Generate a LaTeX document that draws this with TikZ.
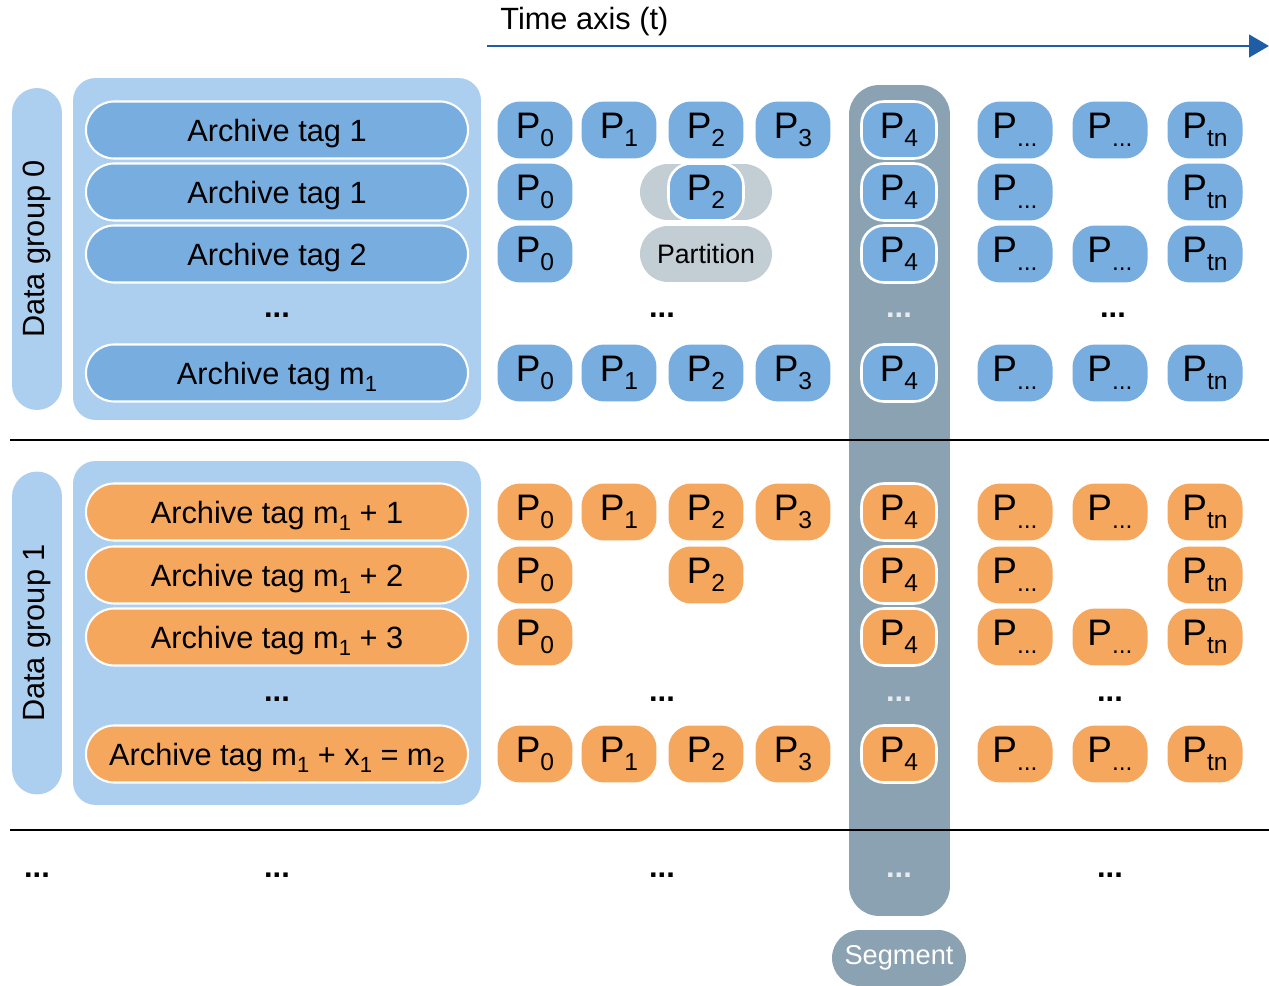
\documentclass[tikz,border=0pt]{standalone}
\usepackage{fontspec}
\setmainfont{Liberation Sans}
\usepackage{tikz}
\usetikzlibrary{positioning,arrows.meta}
\usepackage{xcolor}

\definecolor{pblue}{HTML}{78ADDF}
\definecolor{panel}{HTML}{ADCFEF}
\definecolor{porange}{HTML}{F5A75E}
\definecolor{segcol}{HTML}{8AA2B2}
\definecolor{partcol}{HTML}{C3CDD4}
\definecolor{axiscol}{HTML}{1F5DA6}

\newcommand{\lowsub}[2][14]{\raisebox{-0.22em}{\fontsize{#1}{#1}\selectfont #2}}
\newcommand{\plabel}[1]{P\lowsub{\ifcase#1\relax 0\or 1\or 2\or 3\or 4\or ...\or ...\or tn\fi}}

\begin{document}
\begin{tikzpicture}[x=0.02cm, y=-0.02cm,
    every node/.style={inner sep=0pt, font=\fontsize{17.5}{20}\selectfont},
    panelbox/.style={fill=panel, rounded corners=0.45cm, minimum width=8.16cm},
    groupbar/.style={fill=panel, rounded corners=0.5cm, rotate=90, minimum height=1cm},
    tagbox/.style={draw=white, line width=1.2pt, rounded corners=0.56cm, minimum width=7.64cm, minimum height=1.14cm, text height=0.5cm, text depth=0.02cm},
    pbox/.style={rounded corners=0.45cm, minimum width=1.5cm, minimum height=1.14cm, font=\fontsize{21}{21}\selectfont},
    insegment/.style={draw=white, line width=1.5pt},
    col4/.style={insegment},
    greypill/.style={fill=partcol, rounded corners=0.56cm, minimum width=2.64cm, minimum height=1.12cm},
    dotsnode/.style={font=\fontsize{17.5}{20}\selectfont\bfseries, yshift=-0.08cm},
    segdots/.style={dotsnode, text=white!80!segcol}]

  \useasboundingbox (0,0) rectangle (1269,986);

  % segment column, behind everything
  \node[fill=segcol, rounded corners=0.6cm, minimum width=2.02cm, minimum height=16.62cm] (segment) at (899.5,500.5) {};
  \node[fill=segcol, rounded corners=0.56cm, minimum width=2.68cm, minimum height=1.12cm, text=white, font=\fontsize{15.5}{18}\selectfont] (seglabel) at (899,958) {Segment};

  % time axis
  \coordinate (tstart) at (487,46);
  \coordinate (tend) at (1269,46);
  \draw[axiscol, line width=1.7pt, -{Triangle[length=0.4cm,width=0.45cm]}] (tstart) -- (tend);
  \node[anchor=base west] (tlabel) at (500,30) {Time axis (t)};

  % data group 0
  \node[groupbar, minimum width=6.44cm] (group0) at (37,249) {Data group 0};
  \node[panelbox, minimum height=6.84cm] (panel0) at (277,249) {};
  \node[tagbox, fill=pblue] (tag0a) at (277,130) {Archive tag 1};
  \node[tagbox, fill=pblue] (tag0b) at (277,192) {Archive tag 1};
  \node[tagbox, fill=pblue] (tag0c) at (277,254) {Archive tag 2};
  \node[dotsnode] (dots0a) at (277,311) {...};
  \node[tagbox, fill=pblue] (tag0m) at (277,373) {Archive tag m\lowsub[12.5]{1}};

  \node[greypill] (partbg) at (706,192) {};
  \node[greypill, font=\fontsize{15.2}{18}\selectfont] (partition) at (706,254) {Partition};
  \node[pbox, fill=pblue, insegment] (p0-2-2) at (706,192) {\plabel{2}};

  \foreach \r/\y/\cols in {1/130/{0,1,2,3,4,5,6,7}, 2/192/{0,4,5,7}, 3/254/{0,4,5,6,7}, 4/373/{0,1,2,3,4,5,6,7}}
    \foreach \c in \cols {
      \pgfmathsetmacro\px{{535,619,706,793,899,1015,1110,1205}[\c]}
      \node[pbox, fill=pblue, col\c/.try] (p0-\r-\c) at (\px,\y) {\plabel{\c}};
    }
  \node[dotsnode] (dots0b) at (662,311) {...};
  \node[segdots] (dots0c) at (899,311) {...};
  \node[dotsnode] (dots0d) at (1113,311) {...};

  % data group 1
  \node[groupbar, minimum width=6.46cm] (group1) at (37,633) {Data group 1};
  \node[panelbox, minimum height=6.88cm] (panel1) at (277,633) {};
  \node[tagbox, fill=porange] (tag1a) at (277,512) {Archive tag m\lowsub[12.5]{1} + 1};
  \node[tagbox, fill=porange] (tag1b) at (277,575) {Archive tag m\lowsub[12.5]{1} + 2};
  \node[tagbox, fill=porange] (tag1c) at (277,637) {Archive tag m\lowsub[12.5]{1} + 3};
  \node[dotsnode] (dots1a) at (277,695) {...};
  \node[tagbox, fill=porange] (tag1m) at (277,754) {Archive tag m\lowsub[12.5]{1} + x\lowsub[12.5]{1} = m\lowsub[12.5]{2}};

  \foreach \r/\y/\cols in {1/512/{0,1,2,3,4,5,6,7}, 2/575/{0,2,4,5,7}, 3/637/{0,4,5,6,7}, 4/754/{0,1,2,3,4,5,6,7}}
    \foreach \c in \cols {
      \pgfmathsetmacro\px{{535,619,706,793,899,1015,1110,1205}[\c]}
      \node[pbox, fill=porange, col\c/.try] (p1-\r-\c) at (\px,\y) {\plabel{\c}};
    }
  \node[dotsnode] (dots1b) at (662,695) {...};
  \node[segdots] (dots1c) at (899,695) {...};
  \node[dotsnode] (dots1d) at (1110,695) {...};

  % separators
  \draw[line width=1.3pt] (10,440) -- (1269,440);
  \draw[line width=1.3pt] (10,830) -- (1269,830);

  % further groups
  \node[dotsnode] (dots2a) at (37,871) {...};
  \node[dotsnode] (dots2b) at (277,871) {...};
  \node[dotsnode] (dots2c) at (662,871) {...};
  \node[segdots] (dots2d) at (899,871) {...};
  \node[dotsnode] (dots2e) at (1110,871) {...};

\end{tikzpicture}
\end{document}
